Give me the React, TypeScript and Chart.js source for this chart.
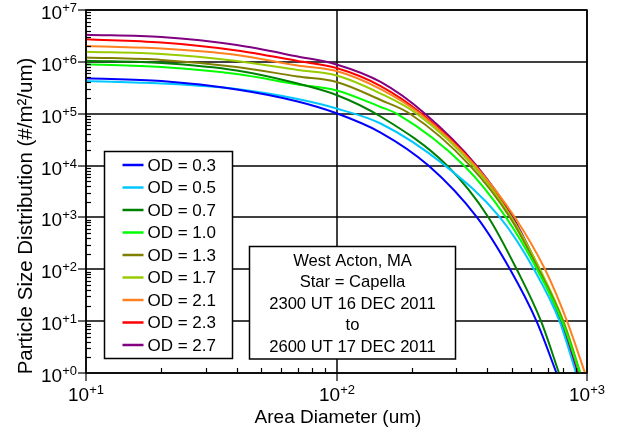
import React, { useEffect, useRef } from "react";
import { Chart, registerables } from "chart.js";

Chart.register(...registerables);

const FONT = '"Liberation Sans", Arial, Helvetica, sans-serif';

// Area diameter (um) / particle size distribution (#/m^2/um), one pair of arrays per optical depth
const od03X = [10, 20, 40, 70, 100, 150, 232.9, 363.9, 492.7, 628.7, 755.5];
const od03Y = [4.82e5, 4.27e5, 2.93e5, 1.72e5, 1.02e5, 4.34e4, 1e4, 1e3, 100, 10, 1];
const od05X = [10, 20, 40, 70, 100, 150, 271.1, 449.4, 614.4, 776.8, 904.0];
const od05Y = [4.27e5, 3.82e5, 2.99e5, 1.92e5, 1.26e5, 6.47e4, 1e4, 1e3, 100, 10, 1];
const od07X = [10, 20, 40, 70, 100, 150, 276.1, 404.4, 524.1, 655.3, 773.1];
const od07Y = [1.05e6, 9.5e5, 6.81e5, 3.82e5, 2.3e5, 8.83e4, 1e4, 1e3, 100, 10, 1];
const od10X = [10, 20, 40, 70, 100, 150, 173.9, 322.8, 474.9, 631.6, 794.8, 937.7];
const od10Y = [8.97e5, 7.96e5, 5.83e5, 3.66e5, 2.8e5, 1.35e5, 1e5, 1e4, 1e3, 100, 10, 1];
const od13X = [10, 20, 40, 70, 100, 150, 196.5, 341.1, 492.7, 640.3, 802.0, 937.7];
const od13Y = [1.22e6, 1.09e6, 7.96e5, 5.22e5, 4.09e5, 1.84e5, 1e5, 1e4, 1e3, 100, 10, 1];
const od17X = [10, 20, 40, 70, 100, 150, 209.0, 350.7, 499.6, 649.2, 805.7, 942.0];
const od17Y = [1.57e6, 1.42e6, 1.04e6, 6.96e5, 5.46e5, 2.45e5, 1e5, 1e4, 1e3, 100, 10, 1];
const od21X = [10, 20, 40, 70, 100, 150, 215.4, 357.2, 515.9, 679.8, 832.2, 981.8];
const od21Y = [2.02e6, 1.81e6, 1.36e6, 8.51e5, 6.66e5, 2.99e5, 1e5, 1e4, 1e3, 100, 10, 1];
const od23X = [10, 20, 40, 70, 100, 150, 218.8, 358.8, 499.6, 646.2, 798.5, 933.4];
const od23Y = [2.72e6, 2.36e6, 1.66e6, 1.04e6, 7.61e5, 3.42e5, 1e5, 1e4, 1e3, 100, 10, 1];
const od27X = [10, 20, 40, 70, 100, 150, 225.6, 362.1, 506.6, 643.3, 787.4, 916.5];
const od27Y = [3.34e6, 3.01e6, 2.11e6, 1.27e6, 8.89e5, 4.09e5, 1e5, 1e4, 1e3, 100, 10, 1];

const seriesX = [od03X, od05X, od07X, od10X, od13X, od17X, od21X, od23X, od27X];
const seriesY = [od03Y, od05Y, od07Y, od10Y, od13Y, od17Y, od21Y, od23Y, od27Y];
const seriesLabels = ["OD = 0.3", "OD = 0.5", "OD = 0.7", "OD = 1.0", "OD = 1.3", "OD = 1.7", "OD = 2.1", "OD = 2.3", "OD = 2.7"];
const seriesColors = ["#0000ff", "#00c8ff", "#008000", "#00ff00", "#808000", "#99cc00", "#ff8020", "#ff0000", "#800080"];

const yTickValues = [1, 10, 100, 1e3, 1e4, 1e5, 1e6, 1e7];
const yTickExps = ["+0", "+1", "+2", "+3", "+4", "+5", "+6", "+7"];
const xTickValues = [10, 100, 1000];
const xTickExps = ["+1", "+2", "+3"];

const xTitle = "Area Diameter (um)";
const yTitle = "Particle Size Distribution (#/m\u00B2/um)";
const infoLines = ["West Acton, MA", "Star = Capella", "2300 UT 16 DEC 2011", "to", "2600 UT 17 DEC 2011"];

function drawPow(ctx: CanvasRenderingContext2D, exp: string, x: number, baseY: number, align: "right" | "center") {
  ctx.font = `19px ${FONT}`;
  const w1 = ctx.measureText("10").width;
  ctx.font = `13px ${FONT}`;
  const w2 = ctx.measureText(exp).width;
  const total = w1 + w2;
  const left = align === "right" ? x - total : x - total / 2;
  ctx.textAlign = "left";
  ctx.textBaseline = "alphabetic";
  ctx.fillStyle = "#000";
  ctx.font = `19px ${FONT}`;
  ctx.fillText("10", left, baseY);
  ctx.font = `13px ${FONT}`;
  ctx.fillText(exp, left + w1, baseY - 7);
}

function seg(ctx: CanvasRenderingContext2D, x1: number, y1: number, x2: number, y2: number) {
  ctx.beginPath();
  ctx.moveTo(x1, y1);
  ctx.lineTo(x2, y2);
  ctx.stroke();
}

const decorPlugin = {
  id: "decor",
  beforeDatasetsDraw(chart: any) {
    const { ctx, chartArea: a, scales } = chart;
    const xs = scales.x;
    const ys = scales.y;
    ctx.save();
    ctx.strokeStyle = "#000";
    ctx.lineWidth = 1.5;
    yTickValues.forEach((v) => {
      const py = Math.round(ys.getPixelForValue(v));
      seg(ctx, a.left, py, a.right, py);
    });
    xTickValues.forEach((v) => {
      const px = Math.round(xs.getPixelForValue(v));
      seg(ctx, px, a.top, px, a.bottom);
    });
    ctx.restore();
  },
  afterDatasetsDraw(chart: any) {
    const { ctx, chartArea: a, scales } = chart;
    const xs = scales.x;
    const ys = scales.y;
    ctx.save();
    ctx.strokeStyle = "#000";
    ctx.lineWidth = 1.5;
    ctx.strokeRect(a.left, a.top, a.right - a.left, a.bottom - a.top);

    ctx.lineWidth = 1.2;
    yTickValues.forEach((v, i) => {
      const py = Math.round(ys.getPixelForValue(v));
      seg(ctx, a.left - 8, py, a.left, py);
      if (i < yTickValues.length - 1) {
        for (let k = 2; k <= 9; k++) {
          const my = Math.round(ys.getPixelForValue(v * k)) + 0.5;
          seg(ctx, a.left, my, a.left + 5, my);
        }
      }
      drawPow(ctx, yTickExps[i], 77, py + 9.3, "right");
    });
    xTickValues.forEach((v, i) => {
      const px = Math.round(xs.getPixelForValue(v));
      seg(ctx, px, a.bottom, px, a.bottom + 8);
      if (i < xTickValues.length - 1) {
        for (let k = 2; k <= 9; k++) {
          const mx = Math.round(xs.getPixelForValue(v * k)) + 0.5;
          seg(ctx, mx, a.bottom, mx, a.bottom - 5);
        }
      }
      drawPow(ctx, xTickExps[i], px, 401, "center");
    });

    ctx.fillStyle = "#000";
    ctx.font = `19px ${FONT}`;
    ctx.textAlign = "center";
    ctx.textBaseline = "alphabetic";
    ctx.fillText(xTitle, 338, 423);
    ctx.save();
    ctx.translate(31.5, 216);
    ctx.rotate(-Math.PI / 2);
    ctx.font = `20.5px ${FONT}`;
    ctx.fillText(yTitle, 0, 0);
    ctx.restore();

    const lx = 104.5, ly = 151.5, lw = 128, lh = 207;
    ctx.fillStyle = "#fff";
    ctx.fillRect(lx, ly, lw, lh);
    ctx.strokeStyle = "#000";
    ctx.lineWidth = 1.5;
    ctx.strokeRect(lx, ly, lw, lh);
    ctx.font = `17px ${FONT}`;
    ctx.textAlign = "left";
    ctx.textBaseline = "middle";
    seriesLabels.forEach((lab, i) => {
      const cy = 165 + i * 22.5;
      ctx.strokeStyle = seriesColors[i];
      ctx.lineWidth = 2.5;
      seg(ctx, 122.5, cy, 143.5, cy);
      ctx.fillStyle = "#000";
      ctx.fillText(lab, 147.5, cy + 1);
    });

    const bx = 249.5, by = 246.5, bw = 206, bh = 112.5;
    ctx.fillStyle = "#fff";
    ctx.fillRect(bx, by, bw, bh);
    ctx.strokeStyle = "#000";
    ctx.lineWidth = 1.5;
    ctx.strokeRect(bx, by, bw, bh);
    ctx.fillStyle = "#000";
    ctx.font = `16.6px ${FONT}`;
    ctx.textAlign = "center";
    ctx.textBaseline = "middle";
    infoLines.forEach((t, i) => {
      ctx.fillText(t, 352.5, 261 + i * 21.5);
    });
    ctx.restore();
  },
};

export default function App() {
  const ref = useRef<HTMLCanvasElement | null>(null);
  useEffect(() => {
    if (!ref.current) return;
    const datasets = seriesY.map((vals, s) => ({
      label: seriesLabels[s],
      data: seriesX[s].map((d, i) => ({ x: d, y: vals[i] })),
      borderColor: seriesColors[s],
      backgroundColor: seriesColors[s],
      borderWidth: 2,
      pointRadius: 0,
      fill: false,
      cubicInterpolationMode: "monotone" as const,
    }));
    const chart = new Chart(ref.current, {
      type: "line",
      data: { datasets },
      options: {
        animation: false,
        responsive: false,
        devicePixelRatio: 1,
        events: [],
        layout: { padding: { left: 86, top: 10, right: 34, bottom: 58 } },
        plugins: { legend: { display: false }, tooltip: { enabled: false } },
        scales: {
          x: { type: "logarithmic", min: 10, max: 1000, display: false },
          y: { type: "logarithmic", min: 1, max: 1e7, display: false },
        },
      },
      plugins: [decorPlugin],
    });
    return () => chart.destroy();
  }, []);
  return (
    <div style={{ position: "absolute", left: 0, top: 0, width: 621, height: 431, background: "#fff" }}>
      <canvas ref={ref} width={621} height={431} />
    </div>
  );
}
